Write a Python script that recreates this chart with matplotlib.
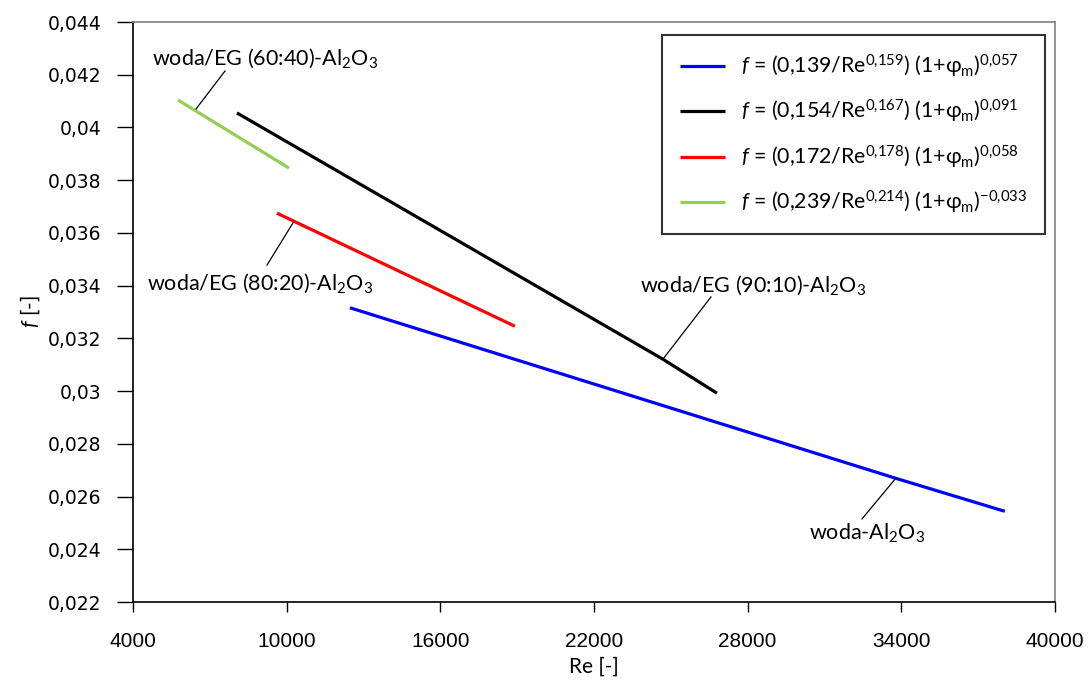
import matplotlib
matplotlib.use("Agg")
import matplotlib.pyplot as plt

plt.rcParams['mathtext.fontset'] = 'custom'
plt.rcParams['mathtext.rm'] = 'Lato'
plt.rcParams['mathtext.it'] = 'Lato:italic'
plt.rcParams['mathtext.bf'] = 'Lato:bold'
plt.rcParams['font.family'] = ['Lato', 'DejaVu Sans']

# ---- data ----
re_blue = [12470, 33790, 38040]
f_blue = [0.03316, 0.02669, 0.02544]
re_black = [8060, 24690, 26800]
f_black = [0.04055, 0.03121, 0.02992]
re_red = [9620, 18910]
f_red = [0.03675, 0.03246]
re_green = [5760, 10090]
f_green = [0.04104, 0.03846]

legend_labels = [
    r"$f$ = (0,139/Re$^{0{,}159}$) (1+φ$_{\mathrm{m}}$)$^{0{,}057}$",
    r"$f$ = (0,154/Re$^{0{,}167}$) (1+φ$_{\mathrm{m}}$)$^{0{,}091}$",
    r"$f$ = (0,172/Re$^{0{,}178}$) (1+φ$_{\mathrm{m}}$)$^{0{,}058}$",
    r"$f$ = (0,239/Re$^{0{,}214}$) (1+φ$_{\mathrm{m}}$)$^{-0{,}033}$",
]
curve_names = [
    r"woda-Al$_2$O$_3$",
    r"woda/EG (90:10)-Al$_2$O$_3$",
    r"woda/EG (80:20)-Al$_2$O$_3$",
    r"woda/EG (60:40)-Al$_2$O$_3$",
]
x_ticks = [4000, 10000, 16000, 22000, 28000, 34000, 40000]
y_ticks = [0.022, 0.024, 0.026, 0.028, 0.030, 0.032, 0.034, 0.036, 0.038, 0.040, 0.042, 0.044]
y_tick_labels = ["0,022", "0,024", "0,026", "0,028", "0,03", "0,032", "0,034",
                 "0,036", "0,038", "0,04", "0,042", "0,044"]

# leader lines: (point on curve) -> (end near label), and label positions
leaders = [
    ([33790, 32463], [0.02670, 0.02515]),
    ([24690, 26567], [0.03121, 0.03357]),
    ([10247, 9232], [0.03638, 0.03478]),
    ([6460, 7592], [0.04070, 0.04214]),
]
label_pos = [(32658, 0.02462), (28207, 0.03402), (8959, 0.03410), (9154, 0.04263)]

colors = ['#0000FF', '#000000', '#FF0000', '#92D050']

fig = plt.figure(figsize=(10.88, 6.81), dpi=100)
ax = fig.add_axes([133/1088, 1-602/681, (1055-133)/1088, (602-22)/681])

series = [(re_blue, f_blue), (re_black, f_black), (re_red, f_red), (re_green, f_green)]
handles = []
for (x, y), c, lab in zip(series, colors, legend_labels):
    h, = ax.plot(x, y, color=c, lw=2.3, solid_capstyle='butt', label=lab)
    handles.append(h)

for (lx, ly), (tx, ty), name in zip(leaders, label_pos, curve_names):
    ax.plot(lx, ly, color='black', lw=0.9)
    ax.text(tx, ty, name, ha='center', va='center', fontsize=15.5)

ax.set_xlim(4000, 40000)
ax.set_ylim(0.022, 0.044)
ax.set_xticks(x_ticks)
ax.set_xticklabels([str(v) for v in x_ticks],
                   family=['Liberation Sans Narrow', 'Liberation Sans'], fontsize=15)
ax.set_yticks(y_ticks)
ax.set_yticklabels(y_tick_labels, family=['DejaVu Sans'], fontsize=13.5)
ax.tick_params(axis='y', direction='out', length=11.5, width=1, pad=11.5)
ax.tick_params(axis='x', direction='out', length=7.5, width=1, pad=14)

for s in ['left', 'bottom']:
    ax.spines[s].set_color('black')
    ax.spines[s].set_linewidth(1.2)
for s in ['top', 'right']:
    ax.spines[s].set_color('#808080')
    ax.spines[s].set_linewidth(1.2)

ax.set_xlabel("Re [-]", fontsize=15, labelpad=4)
ax.set_ylabel(r"$f$ [-]", fontsize=15, labelpad=4)

leg = ax.legend(handles=handles, loc='upper right', bbox_to_anchor=(0.989, 0.978),
                fontsize=15.3, frameon=True, fancybox=False, edgecolor='black',
                handlelength=2.1, handletextpad=0.75, labelspacing=0.85,
                borderpad=0.85, borderaxespad=0)
leg.get_frame().set_linewidth(1.5)

fig.savefig("out.png", dpi=100)
